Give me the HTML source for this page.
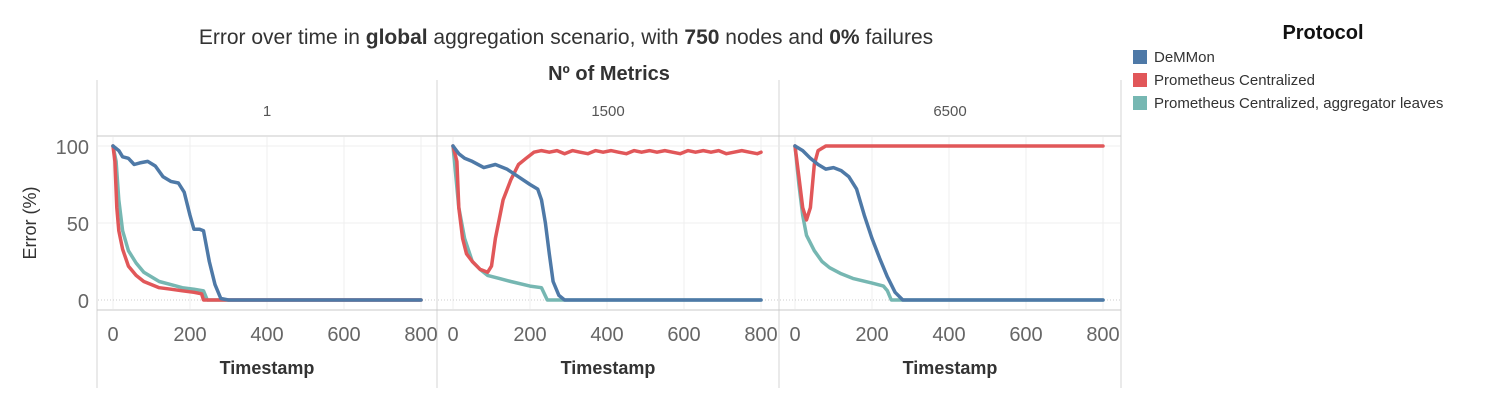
<!DOCTYPE html>
<html><head><meta charset="utf-8"><style>
body{margin:0;background:#fff;width:1500px;height:400px;overflow:hidden;font-family:"Liberation Sans",sans-serif}
svg text{font-family:"Liberation Sans",sans-serif}
</style></head><body>
<svg id="chart" width="1500" height="400" xmlns="http://www.w3.org/2000/svg">
<text x="566" y="44" font-size="21" fill="#333" text-anchor="middle">Error over time in <tspan font-weight="bold">global</tspan> aggregation scenario, with <tspan font-weight="bold">750</tspan> nodes and <tspan font-weight="bold">0%</tspan> failures</text>
<text x="609" y="80" font-size="20" font-weight="bold" fill="#333" text-anchor="middle">Nº of Metrics</text>
<text x="1323" y="39" font-size="20" font-weight="bold" fill="#111" text-anchor="middle">Protocol</text>
<g><rect x="1133" y="50" width="14" height="14" fill="#4e79a7"/><text x="1154" y="62" font-size="15" fill="#333">DeMMon</text></g>
<g><rect x="1133" y="73" width="14" height="14" fill="#e15759"/><text x="1154" y="85" font-size="15" fill="#333">Prometheus Centralized</text></g>
<g><rect x="1133" y="96" width="14" height="14" fill="#76b7b2"/><text x="1154" y="108" font-size="15" fill="#333">Prometheus Centralized, aggregator leaves</text></g>
<text transform="translate(36,223) rotate(-90)" font-size="18" fill="#333" text-anchor="middle">Error (%)</text>
<g id="plots"></g>
</svg>
<script>
const panels = ["1","1500","6500"];
const xTicks = [0,200,400,600,800];
const yTicks = [0,50,100];
const blue1 = [[0,100],[15,97],[25,93],[40,92],[55,88],[70,89],[90,90],[110,87],[130,80],[150,77],[170,76],[185,70],[200,55],[210,46],[225,46],[235,45],[250,25],[265,10],[280,1],[300,0],[800,0]];
const red1 = [[0,100],[5,90],[10,60],[15,45],[25,33],[40,22],[60,16],[80,12],[100,10],[120,8],[150,7],[180,6],[210,5],[230,4],[235,0],[800,0]];
const teal1 = [[0,100],[8,90],[15,65],[25,45],[40,32],[60,24],[80,18],[100,15],[120,12],[150,10],[180,8],[210,7],[235,6],[245,0],[800,0]];
const blue2 = [[0,100],[15,95],[30,92],[50,90],[80,86],[110,88],[140,85],[170,80],[200,75],[220,72],[230,65],[240,50],[250,30],[260,12],[275,3],[290,0],[800,0]];
const red2 = [[0,100],[10,90],[15,60],[25,40],[35,30],[50,25],[70,20],[90,18],[100,22],[110,40],[130,65],[150,78],[170,88],[190,92],[210,96],[230,97],[250,96],[270,97],[290,95],[310,97],[330,96],[350,95],[370,97],[390,96],[410,97],[430,96],[450,95],[470,97],[490,96],[510,97],[530,96],[550,97],[570,96],[590,95],[610,97],[630,96],[650,97],[670,96],[690,97],[710,95],[730,96],[750,97],[770,96],[790,95],[800,96]];
const teal2 = [[0,100],[15,60],[30,40],[50,25],[70,20],[90,16],[120,14],[150,12],[200,9],[230,8],[245,0],[800,0]];
const blue3 = [[0,100],[20,97],[40,92],[60,88],[80,85],[100,86],[120,84],[140,80],[160,72],[180,55],[200,40],[220,27],[240,15],[260,5],[280,0],[800,0]];
const red3 = [[0,100],[10,80],[20,60],[30,52],[40,60],[50,88],[60,97],[80,100],[800,100]];
const teal3 = [[0,100],[10,75],[20,55],[30,42],[50,32],[70,25],[90,21],[120,17],[150,14],[200,11],[230,9],[240,6],[250,0],[800,0]];
const seriesByPanel = [[teal1,red1,blue1],[teal2,red2,blue2],[teal3,red3,blue3]];
const seriesNames = ["prometheus-aggregator-line","prometheus-line","demmon-line"];
const colors = ["#76b7b2","#e15759","#4e79a7"];

const NS="http://www.w3.org/2000/svg";
const g=document.getElementById('plots');
function mk(tag,attrs,parent){const e=document.createElementNS(NS,tag);for(const k in attrs)e.setAttribute(k,attrs[k]);(parent||g).appendChild(e);return e;}
const panelLeft=[97,437,779], panelRight=[437,779,1121];
const xs=(p,t)=>panelLeft[p]+16+t*0.385;
const ys=v=>300-v*1.54;
[97,437,779,1121].forEach(x=>mk('line',{x1:x,y1:80,x2:x,y2:388,stroke:'#d4d4d4','stroke-width':1}));
mk('line',{x1:97,y1:136,x2:1121,y2:136,stroke:'#c8c8c8'});
mk('line',{x1:97,y1:310,x2:1121,y2:310,stroke:'#c8c8c8'});
yTicks.forEach(v=>{
  const t=mk('text',{x:89,y:ys(v)+8,'font-size':20,fill:'#666','text-anchor':'end'});
  
  
  t.textContent=v;
});
panels.forEach((name,p)=>{
  const hdr=mk('text',{x:(panelLeft[p]+panelRight[p])/2,y:116,'font-size':15,fill:'#555','text-anchor':'middle'});
  
  
  hdr.textContent=name;
  xTicks.forEach(t=>{
    mk('line',{x1:xs(p,t),y1:137,x2:xs(p,t),y2:309,stroke:'#efefef'});
    const tl=mk('text',{x:xs(p,t),y:341,'font-size':20,fill:'#666','text-anchor':'middle'});
    
    
    tl.textContent=t;
  });
  yTicks.forEach(v=>mk('line',{x1:panelLeft[p]+1,y1:ys(v),x2:panelRight[p]-1,y2:ys(v),stroke:v===0?'#ccc':'#efefef','stroke-dasharray':v===0?'1,2':''}));
  const xt=mk('text',{x:(panelLeft[p]+panelRight[p])/2,y:374,'font-size':18,'font-weight':'bold',fill:'#333','text-anchor':'middle'});
  
  
  xt.textContent='Timestamp';
  seriesByPanel[p].forEach((s,i)=>{
    const d=s.map((pt,j)=>(j?'L':'M')+xs(p,pt[0]).toFixed(1)+','+ys(pt[1]).toFixed(1)).join('');
    const path=mk('path',{d:d,fill:'none',stroke:colors[i],'stroke-width':3.5,'stroke-linejoin':'round','stroke-linecap':'round'});
    
    
  });
});
</script>
</body></html>
